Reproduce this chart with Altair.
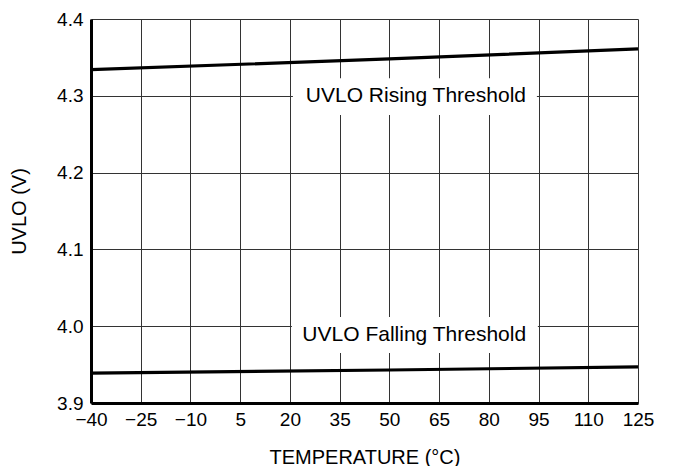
import altair as alt
import pandas as pd

# Series data
temps = [-40, 50, 125]
rising = [4.334, 4.348, 4.361]
falling = [3.939, 3.943, 3.947]

x_ticks = [-40, -25, -10, 5, 20, 35, 50, 65, 80, 95, 110, 125]
y_ticks = [3.9, 4.0, 4.1, 4.2, 4.3, 4.4]

# Annotations
labels = ["UVLO Rising Threshold", "UVLO Falling Threshold"]
label_x = [58, 57.5]
label_y = [4.300, 3.988]
box_x1 = [20.9, 20.6]
box_x2 = [94.5, 94.8]
box_y1 = [4.275, 3.965]
box_y2 = [4.323, 4.012]

FONT = "Liberation Sans"

df = pd.DataFrame(
    {"temp": temps * 2,
     "uvlo": rising + falling,
     "series": ["Rising"] * len(temps) + ["Falling"] * len(temps)}
)
ann = pd.DataFrame({"label": labels, "lx": label_x, "ly": label_y,
                    "x1": box_x1, "x2": box_x2, "y1": box_y1, "y2": box_y2})

xscale = alt.Scale(domain=[-40, 125], nice=False, zero=False)
yscale = alt.Scale(domain=[3.9, 4.4], nice=False, zero=False)

xaxis = alt.Axis(values=x_ticks, title="TEMPERATURE (°C)",
                 labelExpr="replace(datum.label, '-', '–')",
                 labelPadding=7, titlePadding=18, ticks=False,
                 labelFlush=False)
yaxis = alt.Axis(values=y_ticks, format=".1f", title="UVLO (V)",
                 labelPadding=8, titlePadding=27, ticks=False)

lines = alt.Chart(df).mark_line(color="black", strokeWidth=3.2).encode(
    x=alt.X("temp:Q", scale=xscale, axis=xaxis),
    y=alt.Y("uvlo:Q", scale=yscale, axis=yaxis),
    detail="series:N",
)

boxes = alt.Chart(ann).mark_rect(color="white").encode(
    x=alt.X("x1:Q", scale=xscale), x2="x2:Q",
    y=alt.Y("y1:Q", scale=yscale), y2="y2:Q",
)

texts = alt.Chart(ann).mark_text(font=FONT, fontSize=21, color="black",
                                 align="center", baseline="middle").encode(
    x=alt.X("lx:Q", scale=xscale),
    y=alt.Y("ly:Q", scale=yscale),
    text="label:N",
)

chart = alt.layer(lines, boxes, texts).properties(
    width=547, height=384,
    autosize=alt.AutoSizeParams(type="none"),
    padding={"left": 83, "top": 11, "right": 28, "bottom": 63},
).configure_view(stroke=None).configure_axis(
    grid=True, gridColor="#333333", gridWidth=1, gridOpacity=1,
    domainColor="black", domainWidth=3,
    labelFont=FONT, labelFontSize=19, labelColor="black",
    titleFont=FONT, titleFontSize=20, titleFontWeight="normal", titleColor="black",
)

chart.save("out.html", embed_options={"renderer": "svg", "actions": False})
